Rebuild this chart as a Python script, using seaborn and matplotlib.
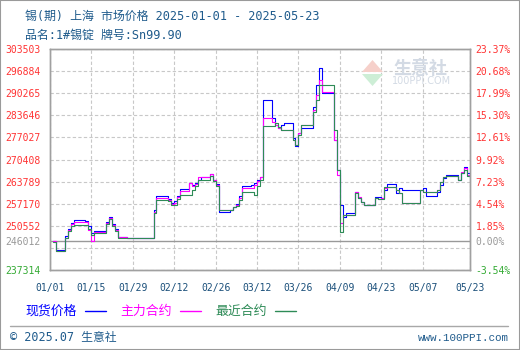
import matplotlib
matplotlib.use("Agg")
import matplotlib.pyplot as plt
import seaborn as sns
import pandas as pd
from matplotlib.patches import Rectangle, Polygon
from matplotlib.lines import Line2D

# ---------------- data ----------------
dates = [
    "2025-01-02", "2025-01-03", "2025-01-06", "2025-01-07", "2025-01-08", "2025-01-09",
    "2025-01-10", "2025-01-13", "2025-01-14", "2025-01-15", "2025-01-16", "2025-01-17",
    "2025-01-20", "2025-01-21", "2025-01-22", "2025-01-23", "2025-01-24", "2025-01-27",
    "2025-02-05", "2025-02-06", "2025-02-07", "2025-02-10", "2025-02-11", "2025-02-12",
    "2025-02-13", "2025-02-14", "2025-02-17", "2025-02-18", "2025-02-19", "2025-02-20",
    "2025-02-21", "2025-02-24", "2025-02-25", "2025-02-26", "2025-02-27", "2025-02-28",
    "2025-03-03", "2025-03-04", "2025-03-05", "2025-03-06", "2025-03-07", "2025-03-10",
    "2025-03-11", "2025-03-12", "2025-03-13", "2025-03-14", "2025-03-17", "2025-03-18",
    "2025-03-19", "2025-03-20", "2025-03-21", "2025-03-24", "2025-03-25", "2025-03-26",
    "2025-03-27", "2025-03-28", "2025-03-31",
    "2025-04-01", "2025-04-02", "2025-04-03", "2025-04-07", "2025-04-08", "2025-04-09",
    "2025-04-10", "2025-04-11", "2025-04-14", "2025-04-15", "2025-04-16", "2025-04-17",
    "2025-04-18", "2025-04-21", "2025-04-22", "2025-04-23", "2025-04-24", "2025-04-25",
    "2025-04-28", "2025-04-29", "2025-04-30",
    "2025-05-06", "2025-05-07", "2025-05-08", "2025-05-09", "2025-05-12", "2025-05-13",
    "2025-05-14", "2025-05-15", "2025-05-16", "2025-05-19", "2025-05-20", "2025-05-21",
    "2025-05-22", "2025-05-23",
]

spot_price = [  # 现货价格
    246012, 243450, 247500, 249590, 251390, 252290, 252290, 251990, 250490, 248400, 248990, 248990,
    251690, 253190, 251090, 249590, 247290, 246990,
    255280, 259480, 259480, 258580, 257380, 257980, 259480, 261480, 263280, 262770, 263370, 264270,
    265080, 265980, 264270, 263070, 254780, 254780,
    255280, 256180, 257080, 259480, 262620, 262770, 263370, 264270, 265170, 288230, 282840, 280740,
    279750, 280740, 281250, 276850, 274450, 278340, 279750, 279750, 286220,
    292720, 297720, 290420, 276250, 267260, 256780, 253280, 254300, 260770, 258880, 257770, 256780,
    256780, 259270, 259180, 258790, 261270, 263070, 260290, 261780, 261270,
    261270, 261780, 259480, 259480, 260770, 262770, 264780, 265780, 265780, 264270, 266280, 268070,
    266280, 265260,
]

main_contract = [  # 主力合约
    245850, 243000, 246900, 249290, 251090, 251690, 251690, 251690, 249290, 246000, 248790, 248790,
    251390, 252890, 250790, 249290, 247200, 246990,
    254690, 258790, 258790, 258280, 257080, 257380, 259180, 261060, 263280, 262470, 263070, 265080,
    265260, 265980, 264270, 262770, 255280, 255280,
    255280, 256270, 256780, 258880, 261870, 261870, 262770, 263970, 265020, 282750, 281730, 280740,
    279840, 279240, 279240, 276250, 274750, 278340, 280740, 280740, 285230,
    289730, 294220, 290630, 276250, 265780, 251300, 253790, 253790, 260680, 259180, 257770, 256780,
    256780, 258790, 258580, 258880, 261780, 262080, 261270, 260290, 257470,
    261270, 260770, 260770, 260770, 261270, 263670, 265170, 265470, 265470, 264270, 266670, 267770,
    265780, 265260,
]

near_contract = [  # 最近合约
    245700, 243000, 246900, 248990, 250490, 250790, 250790, 250790, 249590, 247800, 248490, 248490,
    251090, 252590, 250490, 248990, 246990, 246810,
    254390, 258280, 258280, 257980, 256780, 256780, 258580, 259780, 259780, 261270, 262470, 264270,
    264270, 265470, 263970, 262470, 255280, 255280,
    255280, 256180, 256480, 258280, 260770, 260770, 259780, 262470, 264270, 280440, 280440, 281250,
    280140, 279240, 279240, 276250, 274750, 277750, 280740, 280740, 284640,
    288230, 292720, 292720, 279240, 267260, 248610, 253790, 253790, 260380, 258880, 257770, 256780,
    256780, 258790, 258580, 258580, 262080, 262080, 261270, 260290, 257290,
    261270, 260770, 260770, 260770, 261270, 263670, 265170, 265470, 265470, 264270, 266370, 267260,
    265470, 265260,
]

series_names = ["现货价格", "主力合约", "最近合约"]
series_colors = ["#0000ff", "#ff00ff", "#2e8b57"]

base_value = 246012
y_grid = [303503, 296884, 290265, 283646, 277027, 270408, 263789, 257170, 250552, 243933, 237314]
y_left_labels = ["303503", "296884", "290265", "283646", "277027", "270408", "263789",
                 "257170", "250552", "", "237314"]
y_right_labels = ["23.37%", "20.68%", "17.99%", "15.30%", "12.61%", "9.92%", "7.23%",
                  "4.54%", "1.85%", "", "-3.54%"]
x_tick_dates = ["2025-01-01", "2025-01-15", "2025-01-29", "2025-02-12", "2025-02-26",
                "2025-03-12", "2025-03-26", "2025-04-09", "2025-04-23", "2025-05-07", "2025-05-23"]
x_tick_labels = ["01/01", "01/15", "01/29", "02/12", "02/26", "03/12", "03/26",
                 "04/09", "04/23", "05/07", "05/23"]

title_line1 = "锡(期) 上海 市场价格 2025-01-01 - 2025-05-23"
title_line2 = "品名:1#锡锭 牌号:Sn99.90"

# ---------------- style ----------------
sns.set_theme(style="white")
MONO_CJK = ["DejaVu Sans Mono", "Noto Sans CJK SC"]
CJK = ["Noto Sans CJK SC", "DejaVu Sans"]
plt.rcParams["font.family"] = MONO_CJK

W, H = 520, 350
fig = plt.figure(figsize=(W / 100, H / 100), dpi=100)
fig.patch.set_facecolor("white")


def fx(px):
    return px / W


def fy(py):
    return 1 - py / H


ax = fig.add_axes([fx(50), fy(270), fx(420), 221 / H])

df = pd.DataFrame({"date": pd.to_datetime(dates),
                   series_names[0]: spot_price,
                   series_names[1]: main_contract,
                   series_names[2]: near_contract})
long_df = df.melt(id_vars="date", var_name="series", value_name="price")

sns.lineplot(data=long_df, x="date", y="price", hue="series", hue_order=series_names,
             palette=dict(zip(series_names, series_colors)), estimator=None,
             drawstyle="steps-post", linewidth=0.8, legend=False, ax=ax)

ax.set_xlim(pd.Timestamp("2025-01-01"), pd.Timestamp("2025-05-23"))
ax.set_ylim(y_grid[-1], y_grid[0])
ax.set_xlabel("")
ax.set_ylabel("")

ax.set_xticks(pd.to_datetime(x_tick_dates))
ax.set_xticklabels(x_tick_labels)
ax.set_yticks(y_grid)
ax.set_yticklabels(y_left_labels)
ax.set_yticks([base_value], labels=[str(base_value)], minor=True)

ax.grid(True, which="major", color="#c8c8c8", linestyle=(0, (3, 2)), linewidth=0.8)
ax.grid(False, which="minor")
ax.axhline(base_value, color="#999999", linewidth=1.0, zorder=1.5)

ax.tick_params(axis="both", which="both", length=0)
ax.tick_params(axis="y", which="both", pad=7, labelsize=7)
ax.tick_params(axis="x", pad=9, labelsize=7, labelcolor="#1a4f7a")
for lab in ax.get_yticklabels():
    lab.set_color("#ff3333")
ax.get_yticklabels()[-1].set_color("#33aa33")
for lab in ax.get_yticklabels(minor=True):
    lab.set_color("#999999")

for sp in ax.spines.values():
    sp.set_color("#a0a0a0")
    sp.set_linewidth(1.0)

ax2 = ax.twinx()
ax2.set_ylim(ax.get_ylim())
ax2.set_yticks(y_grid)
ax2.set_yticklabels(y_right_labels)
ax2.set_yticks([base_value], labels=["0.00%"], minor=True)
ax2.tick_params(axis="y", which="both", length=0, pad=4, labelsize=7)
for lab in ax2.get_yticklabels():
    lab.set_color("#ff3333")
ax2.get_yticklabels()[-1].set_color("#33aa33")
for lab in ax2.get_yticklabels(minor=True):
    lab.set_color("#999999")
ax2.grid(False)
for sp in ax2.spines.values():
    sp.set_color("#a0a0a0")
    sp.set_linewidth(1.0)

# ---------------- watermark ----------------
fig.add_artist(Polygon([(fx(362), fy(72)), (fx(372.5), fy(60)), (fx(383), fy(72))],
                       closed=True, transform=fig.transFigure, facecolor="#f6d0ca",
                       edgecolor="none", zorder=0.5))
fig.add_artist(Polygon([(fx(362), fy(74)), (fx(383), fy(74)), (fx(372.5), fy(86))],
                       closed=True, transform=fig.transFigure, facecolor="#cdeed6",
                       edgecolor="none", zorder=0.5))
fig.text(fx(393), fy(68), "生意社", fontsize=13, color="#d3dae4", family=CJK,
         fontweight="bold", va="center", ha="left")
fig.text(fx(392), fy(81), "100PPI.COM", fontsize=7, color="#d3dae4",
         family=["DejaVu Sans"], va="center", ha="left")

# ---------------- titles ----------------
title_color = "#1f5b8c"
fig.text(fx(25), fy(16), title_line1, fontsize=8.6, color=title_color, va="center", ha="left")
fig.text(fx(25), fy(35), title_line2, fontsize=8.6, color=title_color, va="center", ha="left")

# ---------------- legend ----------------
leg_y = fy(311)
leg_items = [(25, 85, 106), (120, 180, 201), (215, 275, 296)]
for name, color, (tx, l0, l1) in zip(series_names, series_colors, leg_items):
    fig.text(fx(tx), leg_y, name, fontsize=9.3, color=color, family=CJK,
             va="center", ha="left")
    fig.add_artist(Line2D([fx(l0), fx(l1)], [leg_y, leg_y], color=color, linewidth=1.0,
                          transform=fig.transFigure))

# ---------------- footer ----------------
fig.add_artist(Line2D([fx(10), fx(508)], [fy(326), fy(326)], color="#a8a8a8",
                      linewidth=1.0, transform=fig.transFigure))
fig.text(fx(10), fy(338), "© 2025.07 生意社", fontsize=8.5, color=title_color,
         va="center", ha="left")
fig.text(fx(509), fy(338), "www.100PPI.com", fontsize=7.8, color=title_color,
         family=["Liberation Mono"], va="center", ha="right")

fig.add_artist(Rectangle((0, 0), 1, 1, transform=fig.transFigure, fill=False,
                         edgecolor="#9a9a9a", linewidth=1.5))

fig.savefig("out.png", dpi=100)
